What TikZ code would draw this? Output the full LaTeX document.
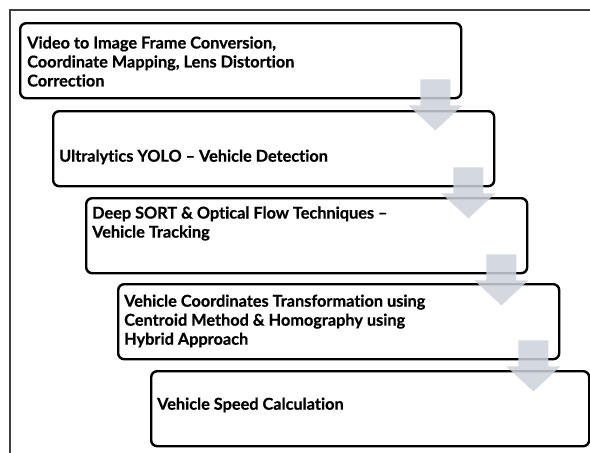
\documentclass[tikz,border=0pt]{standalone}
\usepackage{fontspec}
\setmainfont{Lato}[Ligatures={TeX,NoCommon},BoldFeatures={FakeBold=0.6}]
\usetikzlibrary{calc}
\definecolor{arrowgray}{HTML}{CDD2DA}
\definecolor{framegray}{HTML}{404040}
\tikzset{
  stagebox/.style={draw=black, line width=2.4pt, rounded corners=6pt, minimum width=441pt, minimum height=75pt, inner sep=0pt},
  stagetext/.style={anchor=west, inner sep=0pt, align=left, font=\bfseries\fontsize{16.3}{19}\selectfont},
  blockarrow/.style={fill=arrowgray, fill opacity=0.85, draw=none},
  frameline/.style={draw=framegray, line width=1.4pt}
}
\begin{document}
\begin{tikzpicture}[x=1pt,y=-1pt]
\useasboundingbox (0,0) rectangle (590,453);
\draw[frameline] (10,453) -- (10,10) -- (590,10);
% boxes
\node[stagebox, anchor=north west] (b1) at (19,22) {};
\node[stagebox, anchor=north west] (b2) at (52,110) {};
\node[stagebox, anchor=north west] (b3) at (85,197) {};
\node[stagebox, anchor=north west] (b4) at (117,283) {};
\node[stagebox, anchor=north west, minimum width=438pt] (b5) at (150,370) {};
% texts
\node[stagetext] (t1) at (27,61.5) {Video to Image Frame Conversion,\\Coordinate Mapping, Lens Distortion\\Correction};
\node[stagetext] (t2) at (59,157) {Ultralytics YOLO -- Vehicle Detection};
\node[stagetext] (t3) at (92,223.5) {Deep SORT \& Optical Flow Techniques --\\Vehicle Tracking};
\node[stagetext] (t4) at (124,321) {Vehicle Coordinates Transformation using\\Centroid Method \& Homography using\\Hybrid Approach};
\node[stagetext] (t5) at (157,405) {Vehicle Speed Calculation};
% block arrows
\foreach \b in {b1,b2,b3,b4}{
  \coordinate (top-\b) at ($(\b.south east)+(-27,-20)$);
  \fill[blockarrow] ($(top-\b)+(-15,0)$) -- ($(top-\b)+(15,0)$) -- ($(top-\b)+(15,26)$) -- ($(top-\b)+(27,26)$) -- ($(top-\b)+(0,51)$) -- ($(top-\b)+(-27,26)$) -- ($(top-\b)+(-15,26)$) -- cycle;
}
\end{tikzpicture}
\end{document}
